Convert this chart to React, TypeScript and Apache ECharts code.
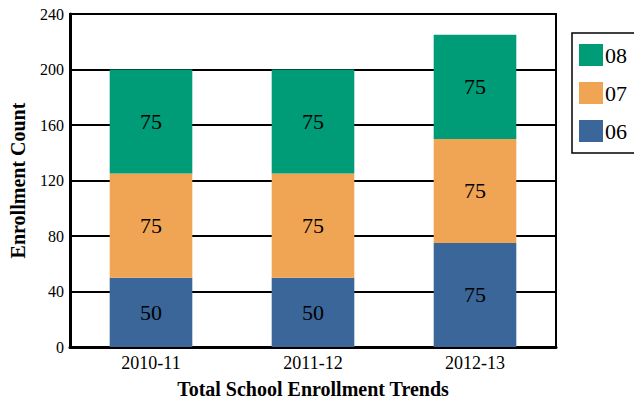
import React, { useEffect, useRef } from "react";
import * as echarts from "echarts";

const categories = ["2010-11", "2011-12", "2012-13"];
const series06 = [50, 50, 75];
const series07 = [75, 75, 75];
const series08 = [75, 75, 75];
const seriesNames = ["06", "07", "08"];
const colors = ["#3b6699", "#f0a555", "#009b77"];

const FONT = "Liberation Serif";

export default function App() {
  const ref = useRef<HTMLDivElement>(null);
  useEffect(() => {
    document.body.style.margin = "0";
    if (!ref.current) return;
    const chart = echarts.init(ref.current, undefined, { renderer: "svg" });
    const dataSets = [series06, series07, series08];
    chart.setOption({
      animation: false,
      textStyle: { fontFamily: FONT },
      grid: {
        left: 67,
        top: 14,
        right: 78,
        bottom: 50,
        show: true,
        borderColor: "#000",
        borderWidth: 2,
        containLabel: false,
      },
      legend: {
        orient: "vertical",
        left: 572,
        top: 33,
        data: ["08", "07", "06"],
        itemWidth: 24,
        itemHeight: 22,
        itemGap: 16,
        padding: [11, 40, 11, 7],
        borderColor: "#000",
        borderWidth: 1.5,
        icon: "rect",
        textStyle: { fontFamily: FONT, fontSize: 22, color: "#000", padding: [0, 0, 0, -3] },
      },
      xAxis: {
        type: "category",
        data: categories,
        axisLine: { lineStyle: { color: "#000", width: 3 } },
        axisTick: { show: false },
        axisLabel: { color: "#000", fontFamily: FONT, fontSize: 18, margin: 7 },
        name: "Total School Enrollment Trends",
        nameLocation: "middle",
        nameGap: 32,
        nameTextStyle: { color: "#000", fontFamily: FONT, fontSize: 20, fontWeight: "bold" },
      },
      yAxis: {
        type: "value",
        min: 0,
        max: 240,
        interval: 40,
        axisLine: { show: true, lineStyle: { color: "#000", width: 3 } },
        axisTick: { show: false },
        splitLine: { show: true, lineStyle: { color: "#000", width: 2 } },
        axisLabel: { color: "#000", fontFamily: FONT, fontSize: 16, margin: 6 },
        name: "Enrollment Count",
        nameLocation: "middle",
        nameGap: 42,
        nameTextStyle: { color: "#000", fontFamily: FONT, fontSize: 20, fontWeight: "bold" },
      },
      series: seriesNames.map((name, i) => ({
        name,
        type: "bar",
        stack: "total",
        barWidth: "51%",
        data: dataSets[i],
        itemStyle: { color: colors[i] },
        label: {
          show: true,
          position: "inside",
          color: "#000",
          fontFamily: FONT,
          fontSize: 22,
        },
      })),
    });
    return () => chart.dispose();
  }, []);
  return <div ref={ref} style={{ width: 634, height: 404 }} />;
}
